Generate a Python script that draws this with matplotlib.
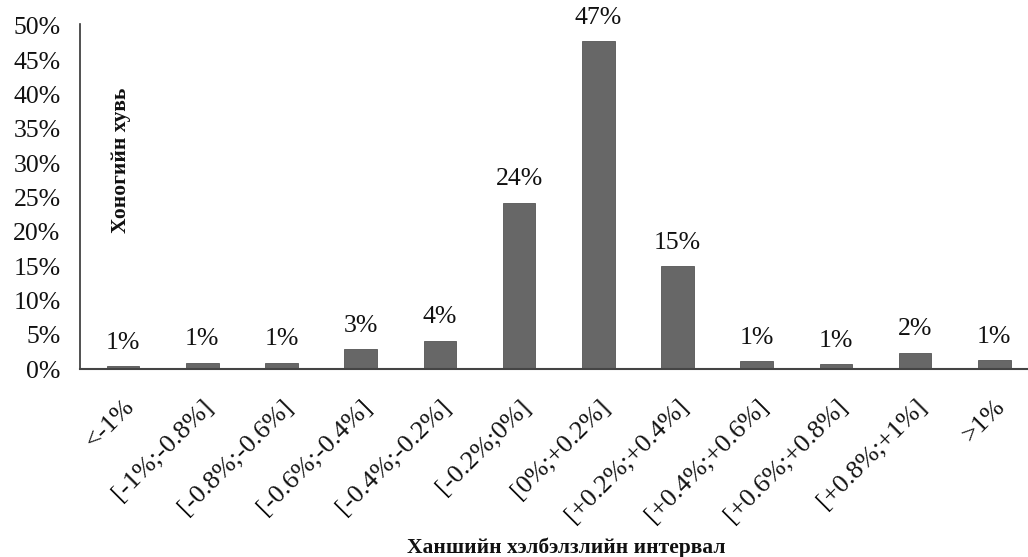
import matplotlib
matplotlib.use("Agg")
import matplotlib.pyplot as plt
from matplotlib.ticker import FuncFormatter

categories = ["<-1%", "[-1%;-0.8%]", "[-0.8%;-0.6%]", "[-0.6%;-0.4%]", "[-0.4%;-0.2%]",
              "[-0.2%;0%]", "[0%;+0.2%]", "[+0.2%;+0.4%]", "[+0.4%;+0.6%]",
              "[+0.6%;+0.8%]", "[+0.8%;+1%]", ">1%"]
values = [0.4, 0.9, 0.9, 2.9, 4.1, 24.2, 47.8, 15.0, 1.1, 0.7, 2.4, 1.3]
labels = ["1%", "1%", "1%", "3%", "4%", "24%", "47%", "15%", "1%", "1%", "2%", "1%"]
yticks = [0, 5, 10, 15, 20, 25, 30, 35, 40, 45, 50]

plt.rcParams['font.family'] = ['Liberation Serif', 'DejaVu Serif']

W, H = 1028, 557
fig = plt.figure(figsize=(W / 100, H / 100), dpi=100)
left_px, base_px, top_px, right_px = 80, 369, 26, 1040
ax = fig.add_axes([left_px / W, (H - base_px) / H, (right_px - left_px) / W, (base_px - top_px) / H])

x = list(range(len(categories)))
ax.bar(x, values, width=0.41, color='#676767', edgecolor='#555555', linewidth=0.6, zorder=2)

for xi, v, lab in zip(x, values, labels):
    ax.annotate(lab, (xi, v), xytext=(0, 9), textcoords='offset points',
                ha='center', va='bottom', fontsize=18.5, color='#111111')

ax.set_xlim(-0.544, -0.544 + (right_px - left_px) / 79.2)
ax.set_ylim(0, 50)
ax.set_yticks(yticks)
ax.yaxis.set_major_formatter(FuncFormatter(lambda v, p: f"{int(v)}%"))
ax.tick_params(axis='y', length=0, pad=14, labelsize=18.5, labelcolor='#111111')
ax.set_xticks(x)
ax.set_xticklabels(categories, rotation=45, ha='right', rotation_mode='anchor', fontsize=19, color='#111111')
ax.tick_params(axis='x', length=0, pad=19)

for s in ['top', 'right']:
    ax.spines[s].set_visible(False)
ax.spines['left'].set_color('#333333')
ax.spines['bottom'].set_color('#444444')
ax.spines['left'].set_linewidth(1.2)
ax.spines['bottom'].set_linewidth(1.5)
ax.spines['left'].set_bounds(0, 50.3)

ax.text(0.043, 0.609, "Хоногийн хувь", transform=ax.transAxes, rotation=90,
        ha='center', va='center', fontsize=15.5, fontweight='bold', color='#111111')

fig.text(566 / W, 1 - 548 / H, "Ханшийн хэлбэлзлийн интервал", ha='center', va='center',
         fontsize=15.5, fontweight='bold', color='#111111')

fig.savefig("out.png", dpi=100, facecolor='white')
